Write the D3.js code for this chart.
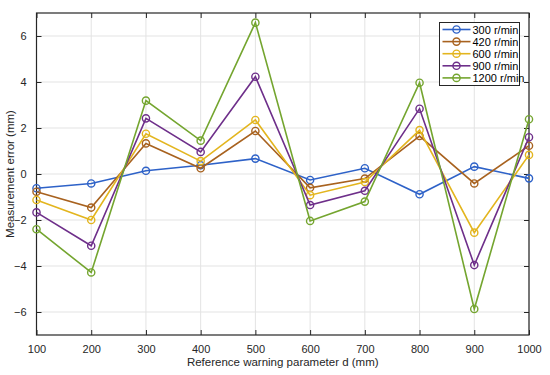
<!DOCTYPE html>
<html>
<head>
<meta charset="utf-8">
<script src="https://cdn.jsdelivr.net/npm/d3@7"></script>
<style>
  body { margin: 0; background: #fff; }
  text { font-family: "Liberation Sans", Arial, sans-serif; }
</style>
</head>
<body>
<div id="chart"></div>
<script>
// data
const dValues = [100, 200, 300, 400, 500, 600, 700, 800, 900, 1000];
const seriesNames = ["300 r/min", "420 r/min", "600 r/min", "900 r/min", "1200 r/min"];
const err300  = [-0.62, -0.41, 0.14, 0.38, 0.67, -0.26, 0.25, -0.88, 0.32, -0.19];
const err420  = [-0.77, -1.46, 1.33, 0.25, 1.87, -0.60, -0.20, 1.65, -0.41, 1.23];
const err600  = [-1.13, -2.00, 1.75, 0.56, 2.35, -0.92, -0.35, 1.91, -2.55, 0.83];
const err900  = [-1.67, -3.12, 2.42, 0.96, 4.23, -1.35, -0.73, 2.84, -3.96, 1.60];
const err1200 = [-2.40, -4.28, 3.19, 1.45, 6.58, -2.04, -1.20, 3.97, -5.87, 2.38];
const xTicks = [100, 200, 300, 400, 500, 600, 700, 800, 900, 1000];
const yTicks = [-6, -4, -2, 0, 2, 4, 6];

const allSeries = [err300, err420, err600, err900, err1200];
const colours = ["#2e62c8", "#a8621f", "#e3b51e", "#6e2f8a", "#74a52f"];

let width = 550;
let height = 375;
let margin = {top: 13, right: 21, bottom: 40, left: 36.5};
let innerW = width - margin.left - margin.right;
let innerH = height - margin.top - margin.bottom;

let svg = d3.select("#chart").append("svg")
            .attr("width", width)
            .attr("height", height);
let g = svg.append("g")
           .attr("transform", "translate(" + margin.left + "," + margin.top + ")");

let x = d3.scaleLinear().domain([100, 1000]).range([0, innerW]);
let y = d3.scaleLinear().domain([-7, 7]).range([innerH, 0]);

//grid
g.append("g").selectAll("line").data(xTicks).join("line")
  .attr("x1", d => x(d)).attr("x2", d => x(d))
  .attr("y1", 0).attr("y2", innerH)
  .style("stroke", "#e3e3e3").style("stroke-width", 1);
g.append("g").selectAll("line").data(yTicks).join("line")
  .attr("x1", 0).attr("x2", innerW)
  .attr("y1", d => y(d)).attr("y2", d => y(d))
  .style("stroke", "#e3e3e3").style("stroke-width", 1);

//axes, ticks pointing inwards like matlab
function styleAxis(sel) {
  sel.select(".domain").remove();
  sel.selectAll(".tick line").style("stroke", "#262626");
  sel.selectAll(".tick text").style("fill", "#262626").style("font-size", "11px");
}
g.append("g").attr("transform", "translate(0," + innerH + ")")
  .call(d3.axisBottom(x).tickValues(xTicks).tickSize(-5).tickPadding(10).tickFormat(d3.format("d")))
  .call(styleAxis);
g.append("g")
  .call(d3.axisTop(x).tickValues(xTicks).tickSize(-5).tickFormat(""))
  .call(styleAxis);
g.append("g")
  .call(d3.axisLeft(y).tickValues(yTicks).tickSize(-5).tickPadding(10))
  .call(styleAxis);
g.append("g").attr("transform", "translate(" + innerW + ",0)")
  .call(d3.axisRight(y).tickValues(yTicks).tickSize(-5).tickFormat(""))
  .call(styleAxis);

g.append("rect")
  .attr("width", innerW).attr("height", innerH)
  .style("fill", "none").style("stroke", "#262626").style("stroke-width", 1.2);

//lines and markers
let line = d3.line().x((d, i) => x(dValues[i])).y(d => y(d));
allSeries.forEach(function(s, k) {
  g.append("path").datum(s)
   .attr("d", line)
   .style("fill", "none")
   .style("stroke", colours[k])
   .style("stroke-width", 1.6);
  g.append("g").selectAll("circle").data(s).join("circle")
   .attr("cx", (d, i) => x(dValues[i]))
   .attr("cy", d => y(d))
   .attr("r", 3.6)
   .style("fill", "none")
   .style("stroke", colours[k])
   .style("stroke-width", 1.4);
});

//axis labels
svg.append("text")
  .attr("x", margin.left + innerW / 2).attr("y", 366)
  .attr("text-anchor", "middle")
  .style("font-size", "11.5px").style("fill", "#262626")
  .text("Reference warning parameter d (mm)");
svg.append("text")
  .attr("transform", "translate(14," + (margin.top + innerH / 2) + ") rotate(-90)")
  .attr("text-anchor", "middle")
  .style("font-size", "11.5px").style("fill", "#262626")
  .text("Measurement error (mm)");

//legend
let legend = svg.append("g").attr("transform", "translate(439.5,22.5)");
legend.append("rect")
  .attr("width", 80).attr("height", 63)
  .style("fill", "#fff").style("stroke", "#262626").style("stroke-width", 1);
seriesNames.forEach(function(name, k) {
  let yy = 7 + k * 12.1;
  legend.append("line")
    .attr("x1", 3).attr("x2", 31).attr("y1", yy).attr("y2", yy)
    .style("stroke", colours[k]).style("stroke-width", 1.6);
  legend.append("circle")
    .attr("cx", 17).attr("cy", yy).attr("r", 3.6)
    .style("fill", "none").style("stroke", colours[k]).style("stroke-width", 1.4);
  legend.append("text")
    .attr("x", 33).attr("y", yy + 4)
    .style("font-size", "11px").style("fill", "#000")
    .text(name);
});
</script>
</body>
</html>
